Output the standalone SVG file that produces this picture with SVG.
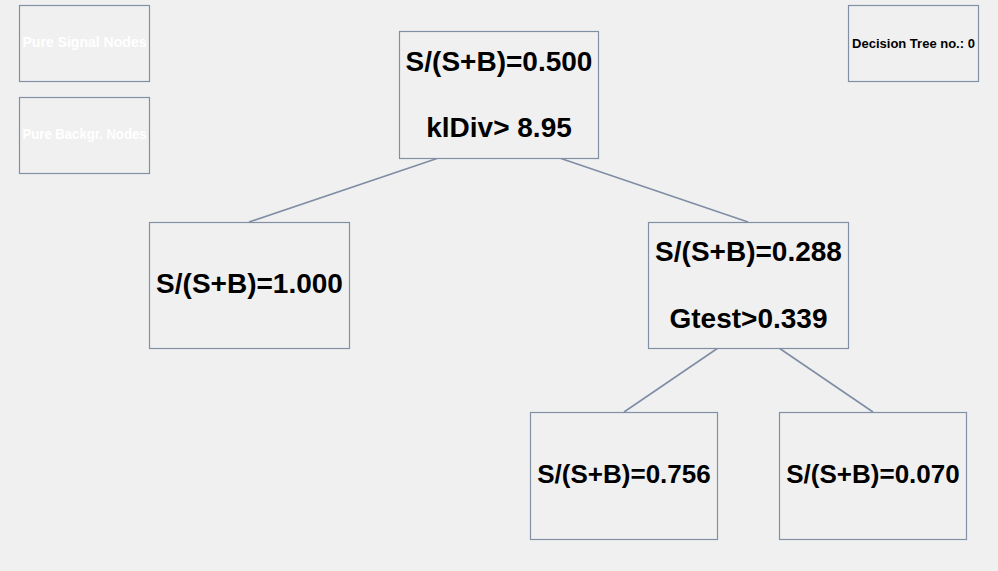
<svg xmlns="http://www.w3.org/2000/svg" width="998" height="571" viewBox="0 0 998 571">
<style>
.box{fill:#f0f0f0;stroke:#8190a5;stroke-width:1.2}
.t{font-family:"Liberation Sans",Arial,sans-serif;font-weight:bold;text-anchor:middle;fill:#000}
.big{font-size:28px}
.mid{font-size:26px}
.leg{font-size:14px;fill:#ffffff}
.small{font-size:13px}
#connectors line{stroke:#7f8ea4;stroke-width:1.6}
</style>
<rect width="998" height="571" fill="#f0f0f0"/>
<g id="connectors">
<line x1="437" y1="158.5" x2="249" y2="222"/>
<line x1="561" y1="158.5" x2="748" y2="222"/>
<line x1="718" y1="348" x2="624" y2="412"/>
<line x1="779" y1="348" x2="873" y2="412"/>
</g>
<g id="legend-signal">
<rect class="box" x="19.5" y="5.5" width="130" height="76"/>
<text class="t leg" x="84.5" y="47" textLength="124" lengthAdjust="spacingAndGlyphs">Pure Signal Nodes</text>
</g>
<g id="legend-backgr">
<rect class="box" x="19.5" y="97.5" width="130" height="76"/>
<text class="t leg" x="84.5" y="139" textLength="124" lengthAdjust="spacingAndGlyphs">Pure Backgr. Nodes</text>
</g>
<g id="tree-no">
<rect class="box" x="848.5" y="5.5" width="130" height="76"/>
<text class="t small" x="913.5" y="48">Decision Tree no.: 0</text>
</g>
<g id="root">
<rect class="box" x="399.5" y="31.5" width="199" height="127"/>
<text class="t big" x="499" y="71">S/(S+B)=0.500</text>
<text class="t big" x="499" y="137">klDiv&gt; 8.95</text>
</g>
<g id="left">
<rect class="box" x="149.5" y="222.5" width="200" height="126"/>
<text class="t big" x="249.5" y="293">S/(S+B)=1.000</text>
</g>
<g id="right">
<rect class="box" x="648.5" y="222.5" width="200" height="126"/>
<text class="t big" x="748.5" y="261">S/(S+B)=0.288</text>
<text class="t big" x="748.5" y="328">Gtest&gt;0.339</text>
</g>
<g id="right-left">
<rect class="box" x="530.5" y="412.5" width="187" height="127"/>
<text class="t mid" x="624" y="483">S/(S+B)=0.756</text>
</g>
<g id="right-right">
<rect class="box" x="779.5" y="412.5" width="187" height="127"/>
<text class="t mid" x="873" y="483">S/(S+B)=0.070</text>
</g>
</svg>
